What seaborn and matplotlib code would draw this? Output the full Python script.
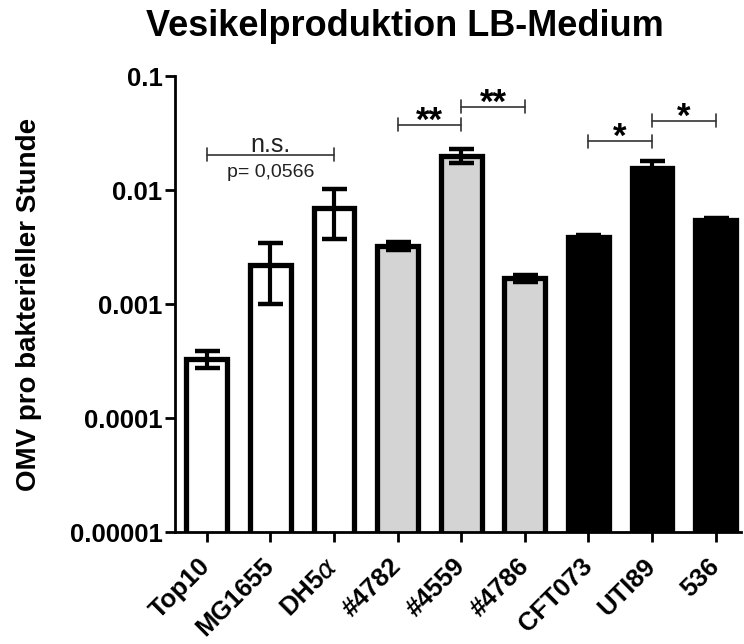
import matplotlib
matplotlib.use("Agg")
import matplotlib.pyplot as plt
from matplotlib.ticker import NullLocator
import seaborn as sns
import numpy as np
import pandas as pd

# ---- data ----
strains = ["Top10", "MG1655", "DH5α", "#4782", "#4559", "#4786", "CFT073", "UTI89", "536"]
tick_labels = ["Top10", "MG1655", r"DH5$\alpha$", "#4782", "#4559", "#4786", "CFT073", "UTI89", "536"]
omv_mean = [3.3e-4, 2.2e-3, 7.0e-3, 3.25e-3, 2.0e-2, 1.68e-3, 3.9e-3, 1.55e-2, 5.5e-3]
omv_sem = [0.55e-4, 1.2e-3, 3.3e-3, 0.25e-3, 0.28e-2, 0.13e-3, 0.15e-3, 0.25e-2, 0.2e-3]
bar_colors = ["#ffffff", "#ffffff", "#ffffff", "#d4d4d4", "#d4d4d4", "#d4d4d4", "#000000", "#000000", "#000000"]
y_ticks = [1e-5, 1e-4, 1e-3, 1e-2, 1e-1]
y_tick_labels = ["0.00001", "0.0001", "0.001", "0.01", "0.1"]

# significance brackets: (left index, right index, y level, label)
brackets = [(0, 2, 0.0203, "n.s."), (3, 4, 0.0372, "**"), (4, 5, 0.0535, "**"),
            (6, 7, 0.0269, "*"), (7, 8, 0.0403, "*")]
p_note = "p= 0,0566"

df = pd.DataFrame({"strain": strains, "omv": omv_mean})

sns.set_style("ticks")
plt.rcParams["font.family"] = ["Liberation Sans", "DejaVu Sans"]
plt.rcParams["text.color"] = "black"
plt.rcParams["axes.labelcolor"] = "black"
plt.rcParams["xtick.color"] = "black"
plt.rcParams["ytick.color"] = "black"

fig = plt.figure(figsize=(7.44, 6.44), dpi=100)
ax = fig.add_axes([175 / 744, 1 - 532 / 644, 566 / 744, 456 / 644])

sns.barplot(data=df, x="strain", y="omv", hue="strain", palette=bar_colors,
            legend=False, width=0.64, edgecolor="black", linewidth=3.8,
            errorbar=None, ax=ax, zorder=2)
ax.errorbar(np.arange(len(strains)), omv_mean, yerr=omv_sem, fmt="none",
            ecolor="black", elinewidth=3, capsize=9, capthick=3.2, zorder=3)

ax.set_yscale("log")
ax.set_ylim(1e-5, 0.1)
ax.set_xlim(-0.5, 8.4)
ax.set_yticks(y_ticks)
ax.set_yticklabels(y_tick_labels, fontsize=18.5, fontweight="bold", color="black")
ax.yaxis.set_minor_locator(NullLocator())
ax.set_xticks(np.arange(len(strains)))
ax.set_xticklabels(tick_labels, fontsize=18.5, fontweight="bold", rotation=45,
                   ha="right", va="center", rotation_mode="anchor", color="black")
ax.tick_params(axis="y", length=7, width=2, pad=2, color="black")
ax.tick_params(axis="x", length=7, width=2, pad=15, color="black")
for s in ["top", "right"]:
    ax.spines[s].set_visible(False)
for s in ["left", "bottom"]:
    ax.spines[s].set_linewidth(2)
    ax.spines[s].set_color("black")
ax.set_xlabel("")
ax.set_ylabel("OMV pro bakterieller Stunde", fontsize=20, fontweight="bold", color="black")
ax.yaxis.set_label_coords(-0.235, 0.5)

px = 456 / 4  # pixels per decade
def shift(y, pixels):
    return y * 10 ** (pixels / px)

for x1, x2, y, lab in brackets:
    ax.plot([x1, x2], [y, y], color="#333333", lw=1.2, zorder=4, clip_on=False)
    for xe in (x1, x2):
        ax.plot([xe, xe], [shift(y, -6.5), shift(y, 6.5)], color="#333333", lw=1.2,
                zorder=4, clip_on=False)
    xm = (x1 + x2) / 2
    if lab == "n.s.":
        ax.text(xm, shift(y, 3), lab, ha="center", va="baseline", fontsize=18,
                color="#222222", clip_on=False)
        ax.text(xm, shift(y, -22), p_note, ha="center", va="baseline", fontsize=14,
                color="#222222", clip_on=False)
    else:
        ax.text(xm, shift(y, -6), lab, ha="center", va="baseline", fontsize=25,
                fontweight="bold", color="black", clip_on=False)

fig.text(405 / 744, 1 - 36 / 644, "Vesikelproduktion LB-Medium", ha="center",
         va="baseline", fontsize=26, fontweight="bold", color="black")

fig.savefig("out.png", dpi=100, facecolor="white")
